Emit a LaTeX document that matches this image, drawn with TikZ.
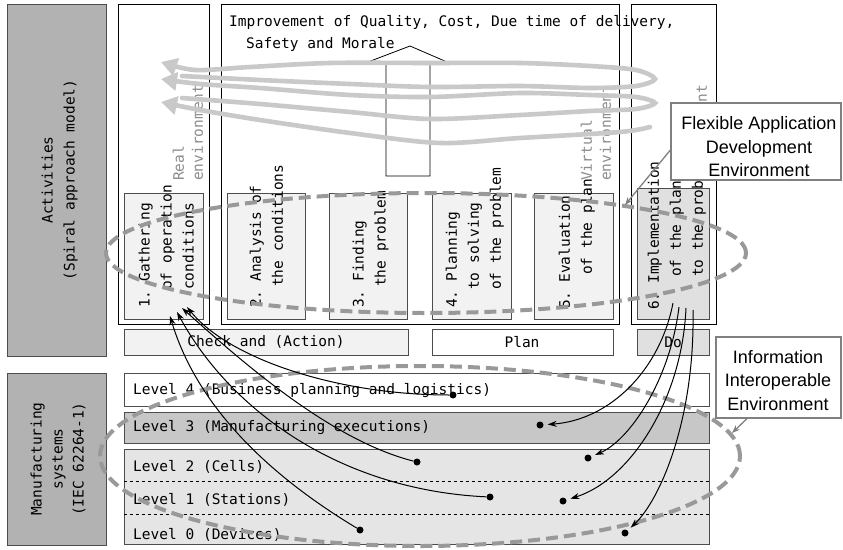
\documentclass[tikz,border=0pt]{standalone}
\usepackage{fontspec}
\setmonofont{DejaVu Sans Mono}
\setsansfont{Liberation Sans}
\usetikzlibrary{arrows.meta}

\definecolor{sidefill}{gray}{0.70}
\definecolor{stepfill}{gray}{0.95}
\definecolor{dofill}{gray}{0.88}
\definecolor{lvthree}{gray}{0.78}
\definecolor{lvlow}{gray}{0.90}
\definecolor{boxline}{gray}{0.30}
\definecolor{spiralgray}{gray}{0.79}
\definecolor{ringgray}{gray}{0.60}
\definecolor{notegray}{gray}{0.50}

\tikzset{
  mono/.style={font=\ttfamily\fontsize{14.5}{22}\selectfont, inner sep=0pt},
  steptext/.style={mono, rotate=90, anchor=north west, align=left},
  envtext/.style={steptext, text=black!45, font=\ttfamily\fontsize{14.5}{19}\selectfont},
  sidebox/.style={draw=boxline, fill=sidefill, line width=0.8pt},
  column/.style={draw=black, fill=white, line width=0.8pt},
  stepbox/.style={draw=boxline, fill=stepfill, line width=0.8pt},
  levelbox/.style={draw=boxline, line width=0.8pt},
  ring/.style={draw=ringgray, line width=4pt, dash pattern=on 12pt off 6pt},
  spiral/.style={draw=spiralgray, line width=4.6pt, line cap=round, -{Triangle[length=16pt,width=18pt]}},
  feedarrow/.style={black, line width=1pt, -{Stealth[length=9pt,width=6pt]}},
  leveldot/.style={circle, fill=black, inner sep=0pt, minimum size=7pt},
  note/.style={draw=notegray, fill=white, line width=1.2pt},
  notetext/.style={font=\sffamily\fontsize{18}{23.5}\selectfont, align=center, inner sep=0pt},
  noteline/.style={draw=notegray, line width=1.3pt, -{Stealth[length=8pt,width=6pt]}}
}

\begin{document}
\begin{tikzpicture}[x=1pt,y=-1pt]
\useasboundingbox (0,0) rectangle (843,549);

% side headings
\draw[sidebox] (7,4) rectangle (106,356);
\node[mono, rotate=90, align=center] (acthead) at (59.5,180) {Activities\\(Spiral approach model)};
\draw[sidebox] (7,373) rectangle (106,545);
\node[mono, rotate=90, align=center, font=\ttfamily\fontsize{14.5}{21}\selectfont] (mfghead) at (58,459) {Manufacturing\\systems\\(IEC 62264-1)};

% environments
\draw[column] (118,4) rectangle (209,324);
\draw[column] (221,4) rectangle (619,324);
\draw[column] (631,4) rectangle (716,324);

% steps
\draw[stepbox] (124,193) rectangle (203,319);
\draw[stepbox] (227,193) rectangle (305,319);
\draw[stepbox] (329,193) rectangle (407,319);
\draw[stepbox] (432,193) rectangle (511,319);
\draw[stepbox] (534,193) rectangle (613,319);
\draw[stepbox, fill=dofill] (637,188) rectangle (709,319);
\node[steptext] (step1) at (138.5,308) {1. Gathering\\\hspace*{18pt}of operation\\\hspace*{18pt}conditions};
\node[steptext] (step2) at (249.5,308) {2. Analysis of\\\hspace*{21pt}the conditions};
\node[steptext] (step3) at (352.5,308) {3. Finding\\\hspace*{21pt}the problem};
\node[steptext] (step4) at (445.5,308) {4. Planning\\\hspace*{18pt}to solving\\\hspace*{18pt}of the problem};
\node[steptext] (step5) at (558.5,309) {5. Evaluation\\\hspace*{34pt}of the plan};
\node[steptext] (step6) at (647.5,310) {6. Implementation\\\hspace*{33pt}of the plan\\\hspace*{33pt}to the problem};

\node[envtext] (env1) at (172.5,181) {Real\\environment};
\node[envtext] (env2) at (580.5,181) {Virtual\\environment};
\node[envtext] (env3) at (676.5,181) {Real\\environment};

% phases
\draw[stepbox] (124,329) rectangle (408,355);
\draw[stepbox, fill=white] (432,329) rectangle (613,355);
\draw[stepbox, fill=dofill] (637,329) rectangle (709,355);
\node[mono] (check) at (266,342) {Check and (Action)};
\node[mono] (plan) at (522,342) {Plan};
\node[mono] (do) at (673,342) {Do};

% levels
\draw[levelbox, fill=white] (124,373) rectangle (709,406);
\draw[levelbox, fill=lvthree] (124,412) rectangle (709,443);
\draw[levelbox, fill=lvlow] (124,449) rectangle (709,544);
\draw[dashed, line width=0.6pt] (124,481) -- (709,481);
\draw[dashed, line width=0.6pt] (124,514) -- (709,514);
\node[mono, anchor=west] (lv4) at (133,391) {Level 4 (Business planning and logistics)};
\node[mono, anchor=west] (lv3) at (133,428) {Level 3 (Manufacturing executions)};
\node[mono, anchor=west] (lv2) at (133,467) {Level 2 (Cells)};
\node[mono, anchor=west] (lv1) at (133,500) {Level 1 (Stations)};
\node[mono, anchor=west] (lv0) at (133,535) {Level 0 (Devices)};

% goal
\node[mono, anchor=north west, align=left] (goal) at (229,15.5) {Improvement of Quality, Cost, Due time of delivery,\\\hspace*{17pt}Safety and Morale};
\draw[fill=white, line width=0.8pt] (386,176) -- (386,62) -- (368,62) -- (410,46) -- (447,62) -- (430,62) -- (430,176) -- cycle;

% spiral
\draw[spiral] plot[smooth] coordinates {(182,76) (260,80) (350,84) (430,87) (520,86) (590,88) (636,86) (655,79) (636,70) (590,66) (520,63) (430,63) (330,63) (250,67) (195,70) (161,62)};
\draw[spiral] plot[smooth] coordinates {(182,98) (260,104) (350,112) (430,119) (520,115) (590,111) (636,109) (655,103) (636,97) (590,95) (520,93) (430,97) (350,95) (260,88) (200,84) (161,79)};
\draw[spiral] plot[smooth] coordinates {(650,127) (620,132) (520,138) (440,143) (350,133) (260,120) (200,110) (161,102)};

% rings
\draw[ring] (426,253) ellipse [x radius=320pt, y radius=60pt];
\draw[ring] (420,456) ellipse [x radius=320pt, y radius=90pt];

% feedback
\node[leveldot] (src4) at (453,395) {};
\node[leveldot] (src2) at (417,462) {};
\node[leveldot] (src1) at (490,497) {};
\node[leveldot] (src0) at (360,530) {};
\node[leveldot] (dst3) at (540,425) {};
\node[leveldot] (dst2) at (588,458) {};
\node[leveldot] (dst1) at (563,501) {};
\node[leveldot] (dst0) at (625,533) {};
\coordinate (in0) at (170,316);
\coordinate (in1) at (177,312);
\coordinate (in2) at (182,308);
\coordinate (in4) at (187,307);
\coordinate (out3) at (673,303);
\coordinate (out2) at (679,307);
\coordinate (out1) at (686,308);
\coordinate (out0) at (693,310);
\draw[feedarrow] (src0) .. controls (260,470) and (195,400) .. (in0);
\draw[feedarrow] (src1) .. controls (340,490) and (230,410) .. (in1);
\draw[feedarrow] (src2) .. controls (330,440) and (240,360) .. (in2);
\draw[feedarrow] (src4) .. controls (340,395) and (230,360) .. (in4);
\draw[feedarrow, shorten >=4pt] (out3) .. controls (660,370) and (610,420) .. (dst3);
\draw[feedarrow, shorten >=4pt] (out2) .. controls (670,380) and (630,440) .. (dst2);
\draw[feedarrow, shorten >=4pt] (out1) .. controls (682,400) and (630,480) .. (dst1);
\draw[feedarrow, shorten >=4pt] (out0) .. controls (695,420) and (660,500) .. (dst0);

% callouts
\node[note, minimum width=170pt, minimum height=77pt] (fad) at (756,141.5) {};
\node[notetext] (fadtext) at (759,147) {Flexible Application\\Development\\Environment};
\coordinate (fadtip) at (625,205);
\draw[noteline] ([yshift=-8.5pt]fad.west) -- (fadtip);
\node[note, minimum width=125pt, minimum height=81pt] (iie) at (778.5,377.5) {};
\node[notetext] (iietext) at (778,380.5) {Information\\Interoperable\\Environment};
\coordinate (iietip) at (732,433);
\draw[noteline] ([xshift=-31.5pt]iie.south) -- (iietip);
\end{tikzpicture}
\end{document}
